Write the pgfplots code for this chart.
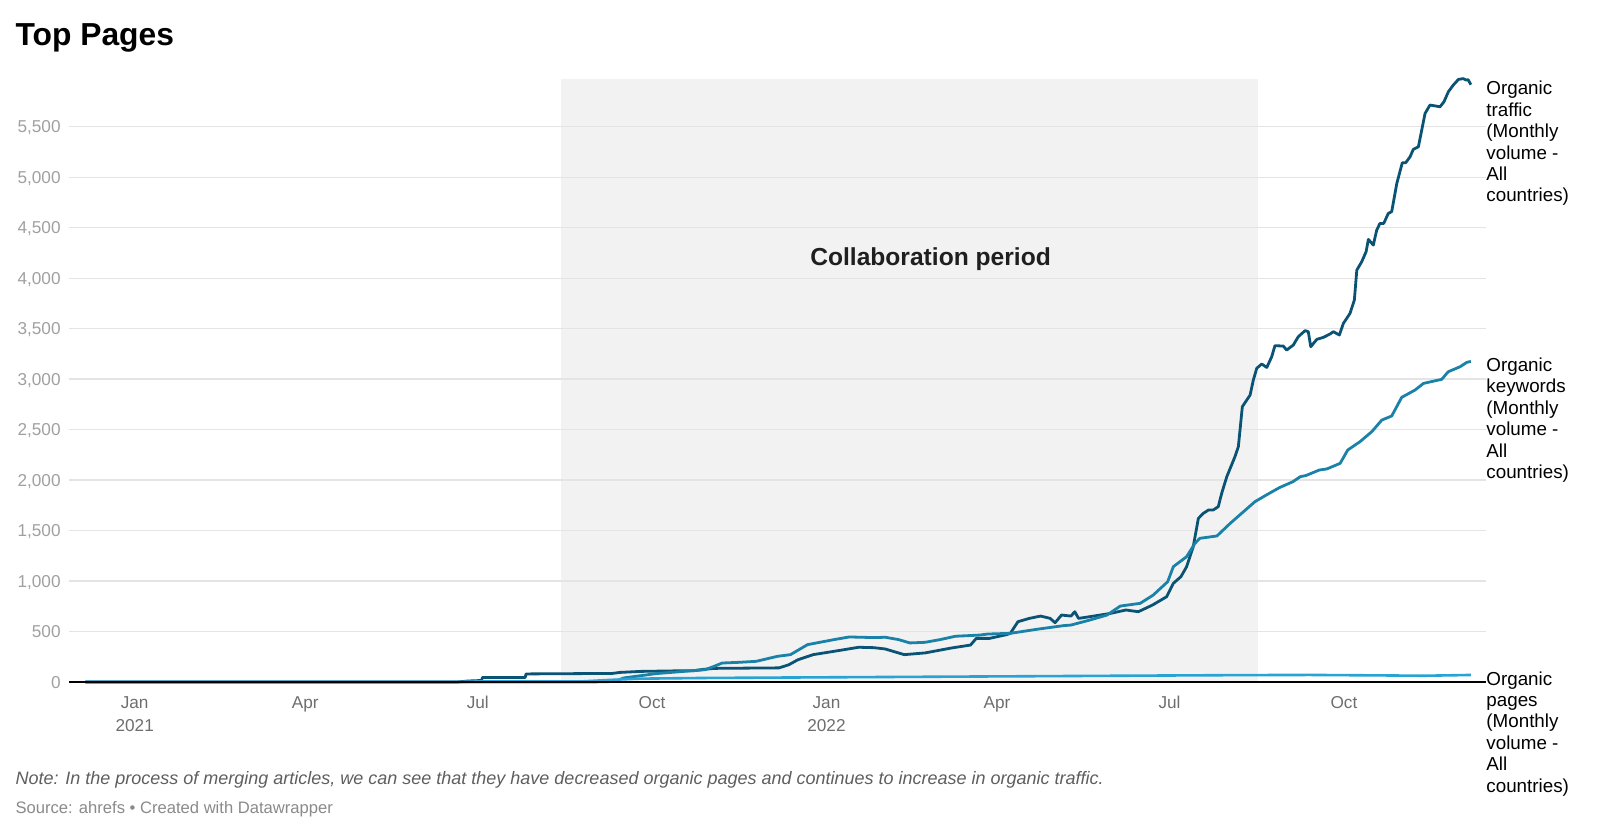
\documentclass[border=0pt]{standalone}
\usepackage{fontspec}
\setmainfont{Liberation Sans}
\usepackage{pgfplots}
\usepackage{pgfplotstable}
\pgfplotsset{compat=1.18}
\definecolor{traffic}{HTML}{0A5375}
\definecolor{keywords}{HTML}{1A82A8}
\definecolor{pages}{HTML}{29A3D3}
\definecolor{bandgray}{HTML}{F2F2F2}
\definecolor{gridc}{HTML}{E4E4E4}
\definecolor{ylab}{HTML}{A0A0A0}
\definecolor{xlab}{HTML}{6E6E6E}
\definecolor{notec}{HTML}{5E5E5E}
\definecolor{srcc}{HTML}{8A8A8A}

% x = days since 1 Jan 2021
\pgfplotstableread{
x y
-26 0
170 0
176 10
183 15
183.5 45
206 45
206.5 80
252 85
256 95
267 105
284 110
295 112
300 125
306 135
340 140
345 170
350 221
358 271
369 304
382 344
390 340
396 327
406 271
417 288
431 337
441 366
444 432
451 432
460 469
462 482
466 597
472 630
478 653
483 630
485.6 587
489 663
494 653
496 696
498 630
506 653
515 680
523 713
529.5 696
537 762
544.5 845
548 977
552 1043
555 1142
558.5 1340
561.2 1620
563.8 1670
566.5 1703
569 1703
571.7 1736
573.5 1868
576.2 2033
580.5 2231
582.3 2330
584.4 2726
588.5 2842
590.2 2990
592 3106
594.6 3149
597.3 3115
599.9 3221
601.6 3330
606 3327
607.8 3287
611.3 3337
613.9 3419
617.5 3479
619.2 3469
620.5 3320
623.7 3393
627.2 3413
630.7 3446
632.4 3469
635.6 3436
637.7 3551
641.2 3650
643.5 3782
644.8 4079
647.4 4162
649.7 4261
650.9 4383
653.5 4327
655.3 4475
657 4541
659 4541
661.4 4640
663.2 4657
665.9 4937
668.8 5142
670.6 5142
672.9 5201
674.6 5274
677.3 5300
680.8 5630
683.4 5713
686 5705
688.7 5696
690.8 5746
693.1 5845
695.7 5911
698.4 5967
701 5975
702.5 5960
703.5 5965
705 5915
}\trafficdata

\pgfplotstableread{
x y
-26 0
240 0
253 5
258 40
275 83
301 122
305 150
310 188
319 195
328 205
339 254
346 271
355 370
369 420
377 446
390 440
396 443
403 420
409 387
417 393
425 420
433 453
446 465
450 475
462 482
476 522
490 558
494 564
504 614
513 663
520 752
530.5 779
537.4 861
545 993
548 1142
555 1241
559.4 1373
562 1423
571 1446
578 1571
585 1686
591 1785
597 1851
604 1925
611 1983
615 2033
618 2045
625 2099
629 2110
636 2165
640 2297
646.5 2380
652.7 2479
658 2594
663.2 2634
668.5 2819
675.5 2891
680 2957
689.6 2997
693 3072
699.3 3122
702.8 3165
705 3175
}\keywordsdata

\pgfplotstableread{
x y
-26 0
170 0
180 5
235 5
250 20
266 33
300 40
350 45
400 50
450 55
500 60
550 65
580 68
620 70
660 65
680 62
700 68
705 70
}\pagesdata

\begin{document}
\begin{tikzpicture}
\path (0,0) rectangle (800pt,416pt);
\node[anchor=north west, inner sep=0pt, font=\fontsize{15.9}{19}\selectfont\bfseries] at (7.6pt,404.5pt) {Top Pages};
\begin{axis}[
  set layers,
  at={(34.5pt,75pt)}, anchor=south west,
  scale only axis, width=708.5pt, height=301.7pt,
  xmin=-34.66, xmax=712.97, ymin=0, ymax=5975,
  axis line style={draw=none},
  ytick={0,500,...,5500},
  xtick={0,90,181,273,365,455,546,638},
  xticklabels={{Jan\\2021},Apr,Jul,Oct,{Jan\\2022},Apr,Jul,Oct},
  major tick length=0pt,
  ymajorgrids, grid style={gridc, line width=0.55pt},
  y tick label style={anchor=base east, inner sep=0pt, xshift=-4pt, yshift=-3.1pt, font=\fontsize{8.6}{10}\selectfont, text=ylab},
  x tick label style={anchor=north, inner sep=0pt, yshift=-7pt, align=center, font=\fontsize{8.6}{11.75}\selectfont, text=xlab},
  /pgf/number format/assume math mode=true,
  /pgf/number format/1000 sep={,},
  scaled y ticks=false,
  clip=false,
]
\begin{pgfonlayer}{axis background}
\fill[bandgray] (axis cs:225,0) rectangle (axis cs:592.8,5975);
\end{pgfonlayer}
\node[anchor=base, inner sep=0pt, font=\fontsize{12.3}{14}\selectfont\bfseries, text=black!88] at (axis cs:419.9,4127) {Collaboration period};
\addplot[traffic, line width=1.4pt, line join=round] table {\trafficdata};
\addplot[keywords, line width=1.4pt, line join=round] table {\keywordsdata};
\addplot[pages, line width=1.3pt, line join=round] table {\pagesdata};
\draw[black, line width=0.6pt] (axis cs:-34.66,0) -- (axis cs:712.97,0);
\node[anchor=north west, inner sep=0pt, align=left, font=\fontsize{9.4}{10.7}\selectfont, yshift=1.9pt] at (axis cs:712.97,5915) {Organic\\traffic\\(Monthly\\volume -\\All\\countries)};
\node[anchor=north west, inner sep=0pt, align=left, font=\fontsize{9.4}{10.7}\selectfont, yshift=1.9pt] at (axis cs:712.97,3175) {Organic\\keywords\\(Monthly\\volume -\\All\\countries)};
\node[anchor=north west, inner sep=0pt, align=left, font=\fontsize{9.4}{10.7}\selectfont, yshift=1.9pt] at (axis cs:712.97,70) {Organic\\pages\\(Monthly\\volume -\\All\\countries)};
\end{axis}
\node[anchor=base west, inner sep=0pt, font=\fontsize{9.0}{11}\selectfont\itshape, text=notec] at (7.6pt,23.6pt) {Note: In the process of merging articles, we can see that they have decreased organic pages and continues to increase in organic traffic.};
\node[anchor=base west, inner sep=0pt, font=\fontsize{8.3}{10}\selectfont, text=srcc] at (7.6pt,9.5pt) {Source: ahrefs • Created with Datawrapper};
\end{tikzpicture}
\end{document}
